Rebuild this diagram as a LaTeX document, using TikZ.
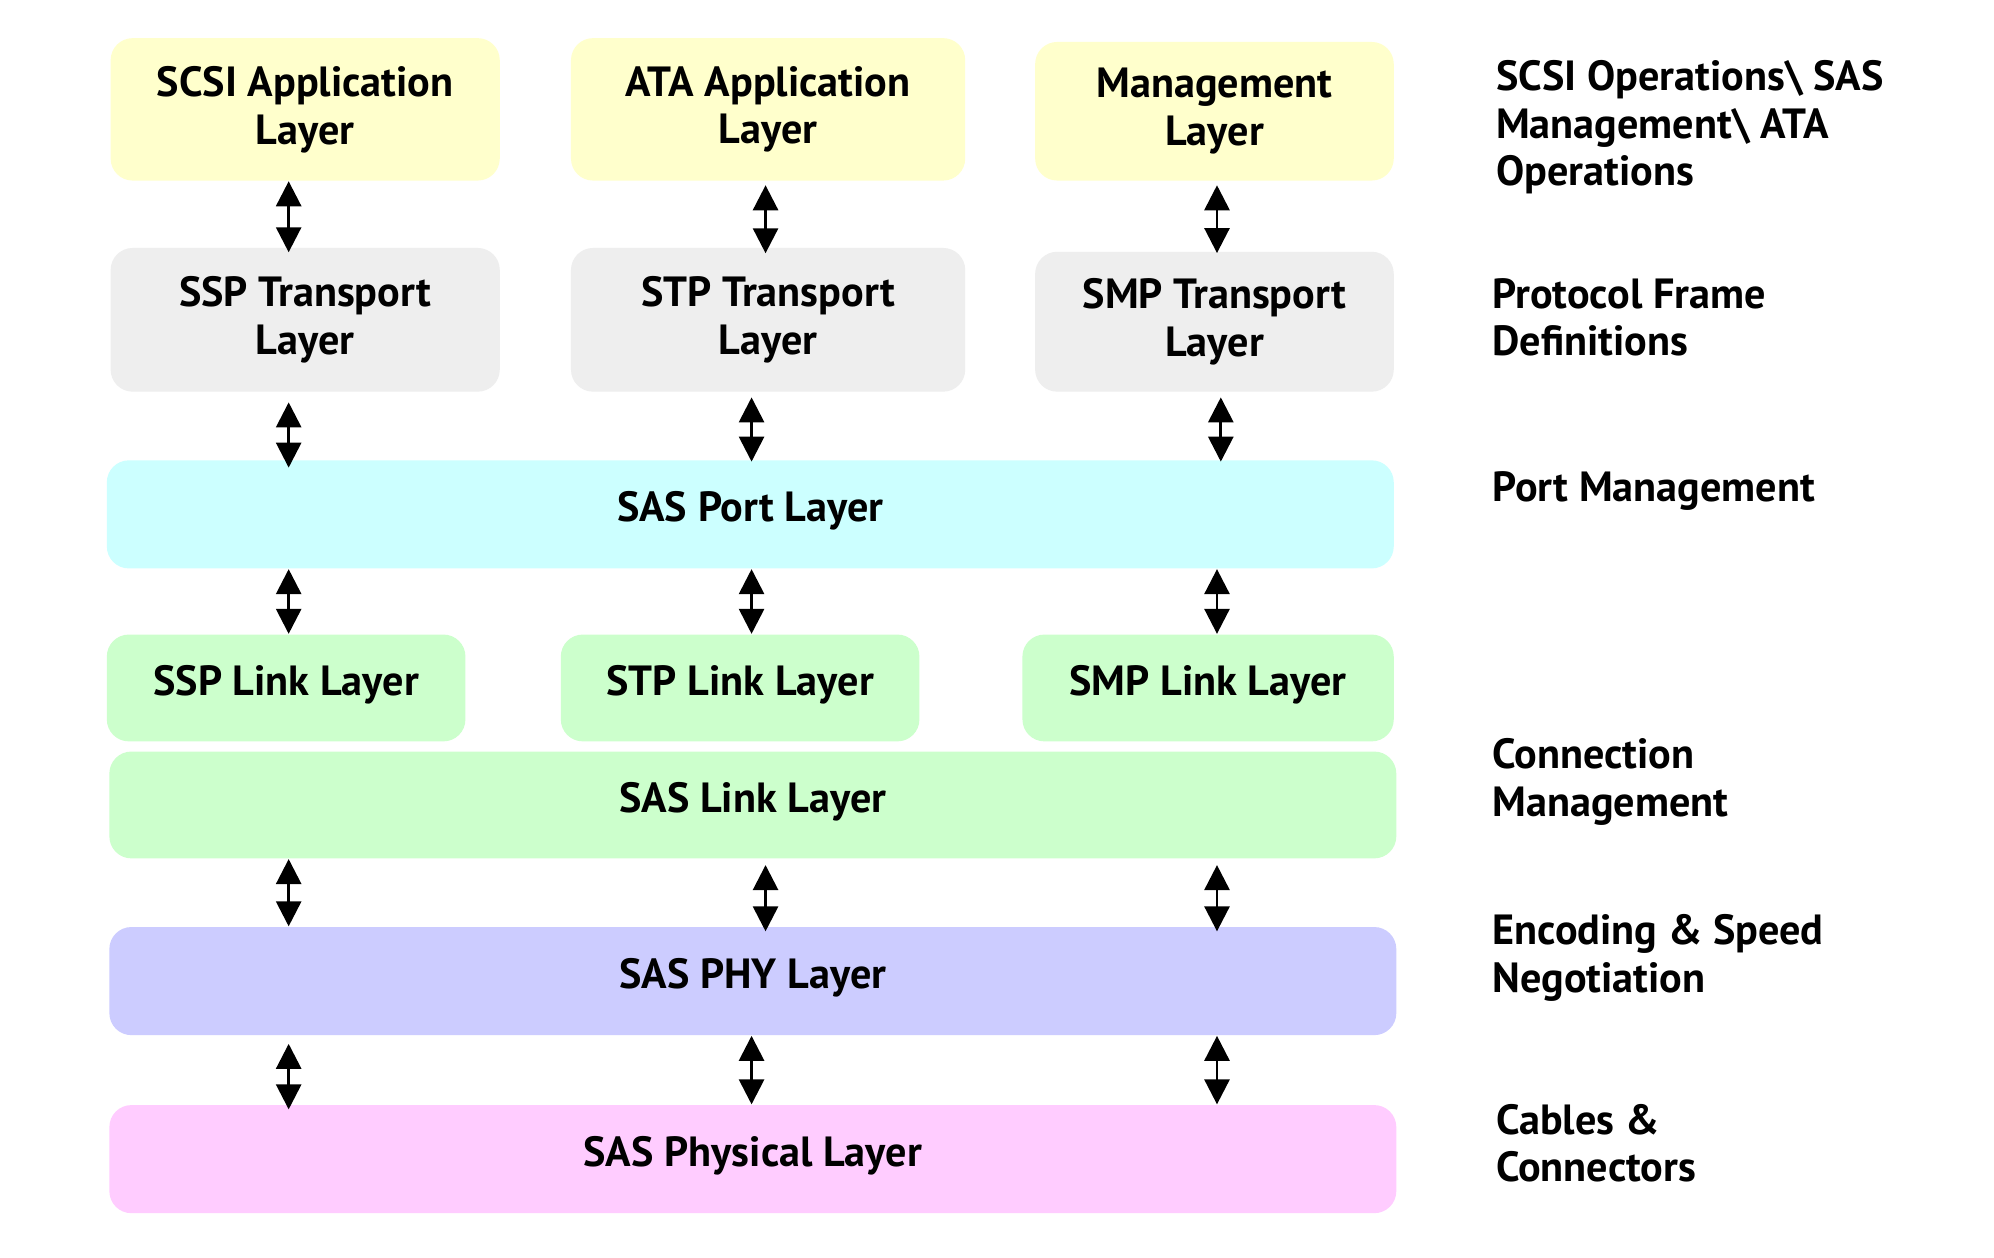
\documentclass[tikz,border=0pt]{standalone}
\usepackage{fontspec}
\setmainfont{PT Sans}
\usepackage{tikz}
\usetikzlibrary{arrows.meta,backgrounds}
\definecolor{appyellow}{HTML}{FFFFCC}
\definecolor{transgray}{HTML}{EEEEEE}
\definecolor{portcyan}{HTML}{CCFFFF}
\definecolor{linkgreen}{HTML}{CCFFCC}
\definecolor{phyblue}{HTML}{CCCCFF}
\definecolor{cablepink}{HTML}{FFCCFF}

\begin{document}
\begin{tikzpicture}[x=0.012717cm,y=-0.012717cm,
  layer/.style 2 args={rounded corners=0.22cm, inner sep=0pt, align=center,
    minimum width=#1*0.012717cm, minimum height=#2*0.012717cm,
    font=\bfseries\fontsize{12}{13.6}\selectfont},
  oneline/.style={text height=9pt, text depth=5pt},
  side/.style={anchor=west, align=left, inner sep=0pt,
    font=\bfseries\fontsize{12}{13.6}\selectfont},
  updown/.style={{Triangle[length=0.25cm,width=0.25cm]}-{Triangle[length=0.25cm,width=0.25cm]}, line width=0.8pt}]
\fill[white] (0,0) rectangle (1568,989);
% application
\node[layer={306}{112}, fill=appyellow] (scsiapp) at (240,86) {SCSI Application\\Layer};
\node[layer={310}{112}, fill=appyellow] (ataapp) at (604,86) {ATA Application\\Layer};
\node[layer={282}{109}, fill=appyellow] (mgmt) at (955,87.5) {Management\\Layer};
% transport
\node[layer={306}{113}, fill=transgray] (ssptr) at (240,251.5) {SSP Transport\\Layer};
\node[layer={310}{113}, fill=transgray] (stptr) at (604,251.5) {STP Transport\\Layer};
\node[layer={282}{110}, fill=transgray] (smptr) at (955,253) {SMP Transport\\Layer};
% port
\node[layer={1012}{85}, oneline, fill=portcyan] (port) at (590,404.5) {SAS Port Layer};
% link
\node[layer={282}{84}, oneline, fill=linkgreen] (ssplink) at (225,541) {SSP Link Layer};
\node[layer={282}{84}, oneline, fill=linkgreen] (stplink) at (582,541) {STP Link Layer};
\node[layer={292}{84}, oneline, fill=linkgreen] (smplink) at (950,541) {SMP Link Layer};
\node[layer={1012}{84}, oneline, fill=linkgreen] (saslink) at (592,633) {SAS Link Layer};
% phy and cables
\node[layer={1012}{85}, oneline, fill=phyblue] (phy) at (592,771.5) {SAS PHY Layer};
\node[layer={1012}{85}, oneline, fill=cablepink] (physical) at (592,911.5) {SAS Physical Layer};
% right side
\node[side] (opsnote) at (1176,100) {SCSI Operations\textbackslash{} SAS\\Management\textbackslash{} ATA\\Operations};
\node[side] (framenote) at (1173,249.5) {Protocol Frame\\Definitions};
\node[side] (portnote) at (1173,386) {Port Management};
\node[side] (connnote) at (1173,615) {Connection\\Management};
\node[side] (encnote) at (1173,753) {Encoding \& Speed\\Negotiation};
\node[side] (cablenote) at (1176,899) {Cables \&\\Connectors};
% arrows
\draw[updown] (scsiapp.south -| 227,0) -- ([yshift=-0.05cm]ssptr.north -| 227,0);
\draw[updown] ([yshift=-0.04cm]ataapp.south -| 602,0) -- ([yshift=-0.06cm]stptr.north -| 602,0);
\draw[updown] ([yshift=-0.04cm]mgmt.south -| 957,0) -- ([yshift=-0.02cm]smptr.north -| 957,0);
\draw[updown] ([yshift=-0.1cm]ssptr.south -| 227,0) -- ([yshift=-0.08cm]port.north -| 227,0);
\draw[updown] ([yshift=-0.05cm]stptr.south -| 591,0) -- ([yshift=-0.02cm]port.north -| 591,0);
\draw[updown] ([yshift=-0.05cm]smptr.south -| 960,0) -- ([yshift=-0.02cm]port.north -| 960,0);
\draw[updown] (port.south -| 227,0) -- (ssplink.north -| 227,0);
\draw[updown] (port.south -| 591,0) -- (stplink.north -| 591,0);
\draw[updown] (port.south -| 957,0) -- (smplink.north -| 957,0);
\draw[updown] (saslink.south -| 227,0) -- (phy.north -| 227,0);
\draw[updown] ([yshift=-0.06cm]saslink.south -| 602,0) -- ([yshift=-0.05cm]phy.north -| 602,0);
\draw[updown] ([yshift=-0.06cm]saslink.south -| 957,0) -- ([yshift=-0.05cm]phy.north -| 957,0);
\draw[updown] ([yshift=-0.08cm]phy.south -| 227,0) -- ([yshift=-0.05cm]physical.north -| 227,0);
\draw[updown] (phy.south -| 591,0) -- (physical.north -| 591,0);
\draw[updown] (phy.south -| 957,0) -- (physical.north -| 957,0);
\end{tikzpicture}
\end{document}
